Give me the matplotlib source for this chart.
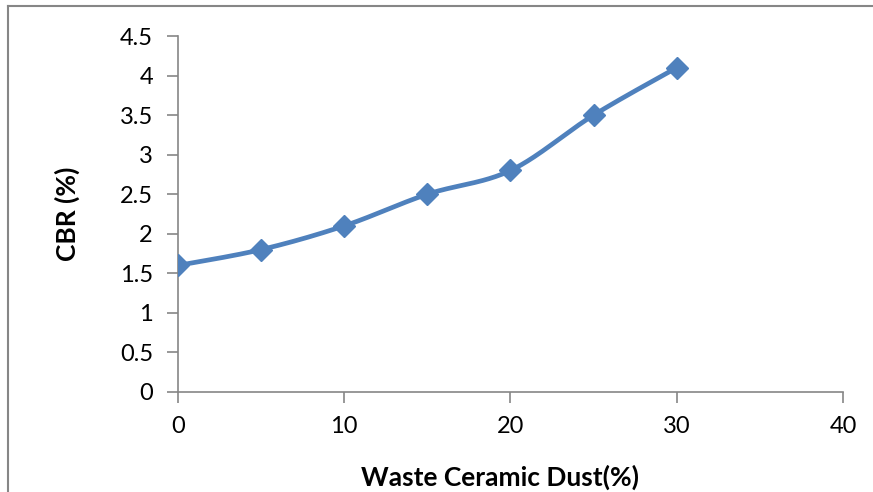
import numpy as np
import matplotlib
matplotlib.use("Agg")
import matplotlib.pyplot as plt
from matplotlib.lines import Line2D

# Waste ceramic dust content (%) and corresponding CBR (%)
dust_pct = [0, 5, 10, 15, 20, 25, 30]
cbr_pct = [1.6, 1.8, 2.1, 2.5, 2.8, 3.5, 4.1]

x_ticks = [0, 10, 20, 30, 40]
y_ticks = [0, 0.5, 1, 1.5, 2, 2.5, 3, 3.5, 4, 4.5]
y_tick_labels = ["0", "0.5", "1", "1.5", "2", "2.5", "3", "3.5", "4", "4.5"]

LINE_BLUE = "#4F81BD"
AXIS_GRAY = "#868686"


def smooth_curve(xs, ys, n=40):
    """Cubic Bezier smoothing through the points (Catmull-Rom style)."""
    xs = np.asarray(xs, float)
    ys = np.asarray(ys, float)
    px = np.concatenate([[xs[0]], xs, [xs[-1]]])
    py = np.concatenate([[ys[0]], ys, [ys[-1]]])
    out_x, out_y = [], []
    t = np.linspace(0, 1, n)
    for i in range(1, len(px) - 2):
        p0 = np.array([px[i], py[i]])
        p3 = np.array([px[i + 1], py[i + 1]])
        c1 = p0 + (np.array([px[i + 1], py[i + 1]]) - np.array([px[i - 1], py[i - 1]])) / 6
        c2 = p3 - (np.array([px[i + 2], py[i + 2]]) - np.array([px[i], py[i]])) / 6
        b = ((1 - t) ** 3)[:, None] * p0 + (3 * (1 - t) ** 2 * t)[:, None] * c1 \
            + (3 * (1 - t) * t ** 2)[:, None] * c2 + (t ** 3)[:, None] * p3
        out_x.extend(b[:, 0])
        out_y.extend(b[:, 1])
    return np.array(out_x), np.array(out_y)


plt.rcParams["font.family"] = ["Lato", "DejaVu Sans"]

fig = plt.figure(figsize=(8.73, 4.92), dpi=100)
ax = fig.add_axes([178 / 873, 1 - 392 / 492, (843 - 178) / 873, (392 - 36) / 492])

sx, sy = smooth_curve(dust_pct, cbr_pct)
ax.plot(sx, sy, color=LINE_BLUE, lw=3.4, solid_capstyle="round", zorder=3)
ax.plot(dust_pct, cbr_pct, linestyle="none", marker="D", markersize=11,
        color=LINE_BLUE, zorder=4)

ax.set_xlim(0, 40)
ax.set_ylim(0, 4.5)
ax.set_xticks(x_ticks)
ax.set_yticks(y_ticks)
ax.set_yticklabels(y_tick_labels)

for side in ("top", "right"):
    ax.spines[side].set_visible(False)
for side in ("left", "bottom"):
    ax.spines[side].set_color(AXIS_GRAY)
    ax.spines[side].set_linewidth(1.2)

ax.tick_params(axis="both", direction="out", length=8, width=1.2,
               color=AXIS_GRAY, labelsize=17, labelcolor="black")
ax.tick_params(axis="x", pad=9)
ax.tick_params(axis="y", pad=10)

ax.set_xlabel("Waste Ceramic Dust(%)", fontsize=19, fontweight="bold")
ax.set_ylabel("CBR (%)", fontsize=19, fontweight="bold")
ax.xaxis.set_label_coords(0.484, -0.205)
ax.yaxis.set_label_coords(-0.148, 0.5)

# Outer chart-area frame
fig.add_artist(Line2D([8 / 873, 1.0], [1 - 6 / 492, 1 - 6 / 492],
                      transform=fig.transFigure, color=AXIS_GRAY, lw=1.5))
fig.add_artist(Line2D([8 / 873, 8 / 873], [0.0, 1 - 6 / 492],
                      transform=fig.transFigure, color=AXIS_GRAY, lw=1.5))

fig.savefig("out.png", dpi=100)
